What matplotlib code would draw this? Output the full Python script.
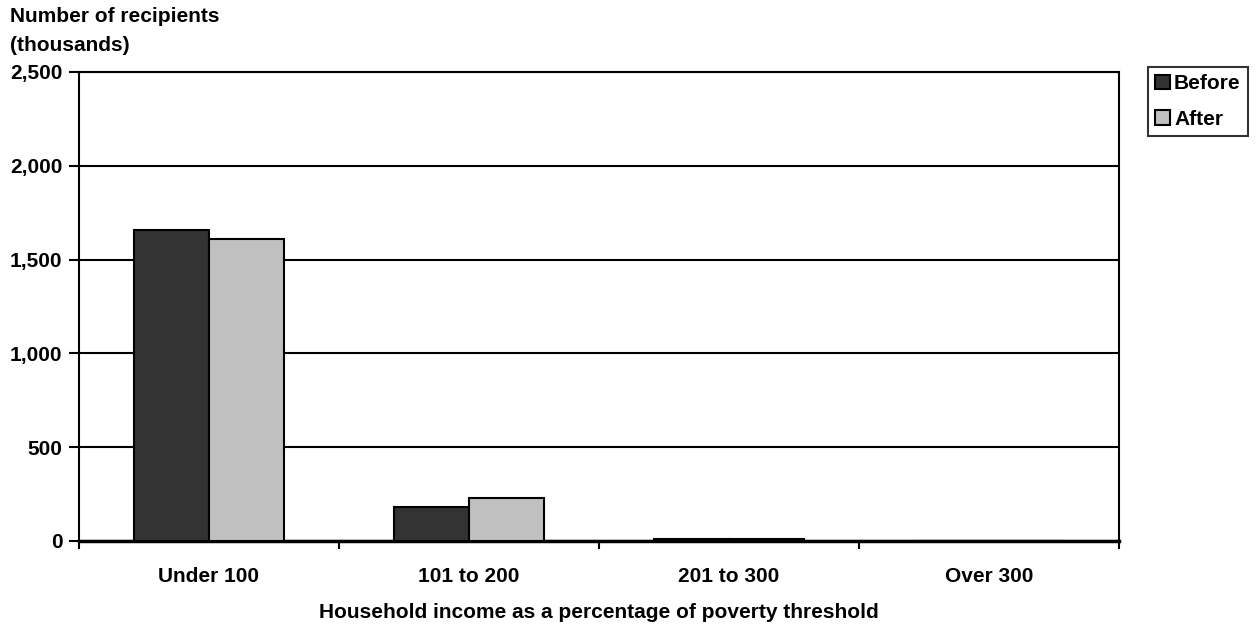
import numpy as np
import matplotlib.pyplot as plt
from matplotlib.ticker import FuncFormatter

plt.rcParams['font.family'] = ['Liberation Sans', 'DejaVu Sans']
plt.rcParams['font.weight'] = 'bold'
plt.rcParams['font.size'] = 15

categories = ['Under 100', '101 to 200', '201 to 300', 'Over 300']
before = [1660, 182, 8, 0]
after = [1610, 230, 8, 0]

fig = plt.figure(figsize=(12.57, 6.27), dpi=100)
ax = fig.add_axes([79 / 1257, 1 - 541 / 627, 1040 / 1257, 469 / 627])

x = np.arange(len(categories))
w = 0.288
ax.bar(x - w / 2, before, width=w, color='#333333', edgecolor='black', linewidth=1.5, label='Before', zorder=3)
ax.bar(x + w / 2, after, width=w, color='#c0c0c0', edgecolor='black', linewidth=1.5, label='After', zorder=3)

ax.set_xlim(-0.5, len(categories) - 0.5)
ax.set_ylim(0, 2500)
ax.set_yticks(np.arange(0, 2501, 500))
ax.yaxis.set_major_formatter(FuncFormatter(lambda v, p: f'{int(v):,}'))
ax.yaxis.grid(True, color='black', linewidth=1.5, zorder=0)

# category boundaries get the ticks, names sit between them
ax.set_xticks(np.arange(-0.5, len(categories), 1.0))
ax.set_xticklabels([])
ax.set_xticks(x, categories, minor=True)
ax.tick_params(axis='x', which='minor', length=0, pad=19)
ax.tick_params(axis='x', which='major', length=6, width=1.5, direction='out')
ax.tick_params(axis='y', length=7, width=1.5, direction='out', pad=5)

for s in ax.spines.values():
    s.set_linewidth(1.5)
ax.spines['bottom'].set_linewidth(2.5)

fig.text(599 / 1257, 1 - 612 / 627, 'Household income as a percentage of poverty threshold',
         ha='center', va='center', fontweight='bold')
fig.text(10 / 1257, 1 - 7 / 627, 'Number of recipients\n(thousands)', ha='left', va='top',
         linespacing=1.65)

leg = ax.legend(loc='upper left', bbox_to_anchor=(1148 / 1257, 1 - 67 / 627),
                bbox_transform=fig.transFigure, frameon=True, fancybox=False,
                handlelength=0.7, handleheight=0.7, handletextpad=0.2,
                borderaxespad=0, borderpad=0.35, labelspacing=0.8)
leg.get_frame().set_edgecolor('black')
leg.get_frame().set_linewidth(1.5)

fig.savefig('out.png', dpi=100)
